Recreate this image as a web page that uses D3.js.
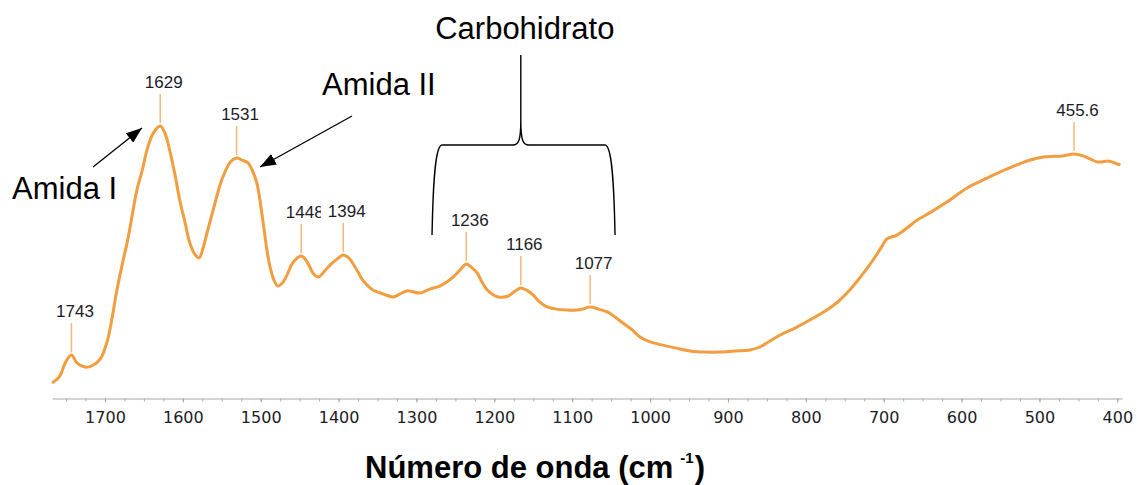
<!DOCTYPE html>
<html>
<head>
<meta charset="utf-8">
<script src="https://cdn.jsdelivr.net/npm/d3@7"></script>
<style>
  body { margin: 0; background: #fff; }
  svg { display: block; }
</style>
</head>
<body>
<svg id="chart"></svg>
<script>
// spectrum (wavenumber in cm-1, relative absorbance)
const wavenumbers = [1768, 1758, 1751, 1743, 1736, 1726, 1717, 1706, 1697, 1691, 1685, 1678, 1670, 1659, 1652, 1646, 1638, 1629, 1623, 1617, 1610, 1604, 1597, 1591, 1584, 1579, 1574, 1568, 1561, 1550, 1539, 1531, 1524, 1516, 1511, 1505, 1497, 1492, 1488, 1483, 1478, 1471, 1465, 1459, 1448, 1442, 1437, 1432, 1426, 1419, 1411, 1402, 1394, 1387, 1382, 1375, 1369, 1362, 1356, 1343, 1330, 1321, 1312, 1303, 1295, 1283, 1270, 1261, 1253, 1244, 1236, 1230, 1222, 1216, 1209, 1203, 1195, 1182, 1175, 1166, 1157, 1150, 1143, 1135, 1122, 1107, 1094, 1086, 1077, 1067, 1055, 1045, 1035, 1023, 1013, 1000, 985, 968, 949, 929, 910, 891, 872, 859, 846, 833, 814, 795, 775, 759, 746, 730, 720, 711, 702, 696, 683, 670, 657, 641, 619, 593, 572, 551, 529, 516, 495, 470, 455.6, 444, 435, 426, 420, 413, 407, 400, 396];
const absorbance = [0.050, 0.073, 0.117, 0.143, 0.117, 0.103, 0.107, 0.130, 0.190, 0.265, 0.355, 0.443, 0.537, 0.693, 0.760, 0.827, 0.883, 0.907, 0.883, 0.827, 0.743, 0.660, 0.583, 0.517, 0.477, 0.467, 0.500, 0.560, 0.627, 0.727, 0.787, 0.800, 0.793, 0.783, 0.760, 0.717, 0.587, 0.493, 0.437, 0.393, 0.373, 0.387, 0.417, 0.450, 0.473, 0.460, 0.437, 0.413, 0.403, 0.420, 0.443, 0.463, 0.477, 0.467, 0.450, 0.420, 0.393, 0.373, 0.360, 0.347, 0.337, 0.347, 0.357, 0.353, 0.350, 0.363, 0.373, 0.387, 0.403, 0.427, 0.447, 0.437, 0.417, 0.387, 0.360, 0.347, 0.337, 0.340, 0.353, 0.367, 0.357, 0.343, 0.323, 0.307, 0.297, 0.293, 0.293, 0.297, 0.303, 0.297, 0.287, 0.270, 0.250, 0.227, 0.203, 0.187, 0.177, 0.167, 0.157, 0.153, 0.153, 0.157, 0.160, 0.170, 0.190, 0.210, 0.233, 0.260, 0.290, 0.320, 0.353, 0.403, 0.437, 0.470, 0.507, 0.530, 0.543, 0.567, 0.593, 0.617, 0.653, 0.700, 0.727, 0.753, 0.777, 0.790, 0.803, 0.807, 0.813, 0.807, 0.797, 0.787, 0.787, 0.790, 0.787, 0.780, 0.777];

// labelled peaks
const peakWavenumbers = [1743, 1629, 1531, 1448, 1394, 1236, 1166, 1077, 455.6];
const peakLabels = ["1743", "1629", "1531", "1448", "1394", "1236", "1166", "1077", "455.6"];

// x axis ticks
const majorTicks = [1700, 1600, 1500, 1400, 1300, 1200, 1100, 1000, 900, 800, 700, 600, 500, 400];
const minorTicks = d3.range(1750, 399, -25);

const width = 1138;
const height = 485;
const axisY = 398.5;

const data = wavenumbers.map((w, i) => ({ w: w, a: absorbance[i] }));

const svg = d3.select("#chart")
  .attr("width", width)
  .attr("height", height);

const x = d3.scaleLinear()
  .domain([1768, 394])
  .range([52, 1122]);

const y = d3.scaleLinear()
  .domain([0, 1])
  .range([398, 98]);

// minor ticks first, then major ticks with labels
svg.append("g")
    .attr("transform", `translate(0,${axisY})`)
  .call(d3.axisBottom(x).tickValues(minorTicks).tickSize(3).tickFormat(""))
  .call(g => g.select(".domain").remove())
  .call(g => g.selectAll("line").attr("stroke", "#b0b0b0"));

svg.append("g")
    .attr("id", "x-axis")
    .attr("transform", `translate(0,${axisY})`)
  .call(d3.axisBottom(x).tickValues(majorTicks).tickSize(4).tickSizeOuter(0).tickPadding(9).tickFormat(d3.format("d")))
  .call(g => g.select(".domain").attr("stroke", "#a8a8a8"))
  .call(g => g.selectAll("line").attr("stroke", "#a8a8a8"))
  .call(g => g.selectAll("text")
    .attr("fill", "#1c1c24")
    .style("font", "16px 'DejaVu Sans', Verdana, sans-serif"));

// axis title
const title = svg.append("text")
  .attr("x", 365)
  .attr("y", 478)
  .style("font", "bold 31px 'Liberation Sans', Arial, sans-serif")
  .attr("fill", "#000");
title.append("tspan").text("Número de onda (cm");
title.append("tspan").attr("dx", 7).attr("dy", -15).style("font-size", "15px").text("-1");
title.append("tspan").attr("dx", 1).attr("dy", 15).text(")");

// spectrum line
const line = d3.line()
  .x(d => x(d.w))
  .y(d => y(d.a))
  .curve(d3.curveCatmullRom.alpha(0.5));

svg.append("path")
  .datum(data)
  .attr("d", line)
  .attr("fill", "none")
  .attr("stroke", "#f29d3f")
  .attr("stroke-width", 3)
  .attr("stroke-linejoin", "round");

// peak markers + labels
const nearest = w => data.reduce((b, d) => Math.abs(d.w - w) < Math.abs(b.w - w) ? d : b);

peakWavenumbers.forEach((w, i) => {
  const p = nearest(w);
  const px = x(w);
  const py = y(p.a);
  const g = svg.append("g");
  g.append("line")
    .attr("x1", px).attr("x2", px)
    .attr("y1", py - 32).attr("y2", py - 3)
    .attr("stroke", "#f7b77a")
    .attr("stroke-width", 1.5);
  const t = g.append("text")
    .attr("x", px + 3.5)
    .attr("y", py - 38)
    .attr("text-anchor", "middle")
    .attr("fill", "#1b1b28")
    .style("font", "17px 'Liberation Sans', Arial, sans-serif")
    .text(peakLabels[i]);
  const tw = t.node().getComputedTextLength();
  g.insert("rect", "text")
    .attr("x", px + 3.5 - tw / 2 - 7)
    .attr("y", py - 53)
    .attr("width", tw + 8)
    .attr("height", 18)
    .attr("fill", "#fff");
});

// annotations
const annFont = "31px 'Liberation Sans', Arial, sans-serif";

svg.append("defs").append("marker")
    .attr("id", "arrow")
    .attr("viewBox", "0 0 16 12")
    .attr("refX", 16).attr("refY", 6)
    .attr("markerWidth", 16).attr("markerHeight", 12)
    .attr("markerUnits", "userSpaceOnUse")
    .attr("orient", "auto")
  .append("path")
    .attr("d", "M0,0 L16,6 L0,12 Z")
    .attr("fill", "#000");

svg.append("text")
  .attr("x", 12).attr("y", 199)
  .style("font", annFont)
  .text("Amida I");

svg.append("line")
  .attr("x1", 93).attr("y1", 167)
  .attr("x2", 142).attr("y2", 128)
  .attr("stroke", "#000").attr("stroke-width", 1.3)
  .attr("marker-end", "url(#arrow)");

svg.append("text")
  .attr("x", 322).attr("y", 95)
  .style("font", annFont)
  .text("Amida II");

svg.append("line")
  .attr("x1", 352).attr("y1", 116)
  .attr("x2", 260).attr("y2", 167)
  .attr("stroke", "#000").attr("stroke-width", 1.3)
  .attr("marker-end", "url(#arrow)");

// carbohydrate brace
const xL = x(1280), xR = x(1045), xC = x(1166);
const bTop = 145, bTip = 55, bBot = 235;
const brace = d3.path();
brace.moveTo(xL, bBot);
brace.bezierCurveTo(xL + 1, 185, xL + 3, bTop, xL + 10, bTop);
brace.lineTo(xC - 8, bTop);
brace.bezierCurveTo(xC - 2, bTop, xC, bTop - 5, xC, bTop - 25);
brace.lineTo(xC, bTip);
brace.lineTo(xC, bTop - 25);
brace.bezierCurveTo(xC, bTop - 5, xC + 2, bTop, xC + 8, bTop);
brace.lineTo(xR - 10, bTop);
brace.bezierCurveTo(xR - 3, bTop, xR - 1, 185, xR, bBot);

svg.append("path")
  .attr("d", brace.toString())
  .attr("fill", "none")
  .attr("stroke", "#000")
  .attr("stroke-width", 1.4);

svg.append("text")
  .attr("x", xC + 4).attr("y", 39)
  .attr("text-anchor", "middle")
  .style("font", annFont)
  .text("Carbohidrato");
</script>
</body>
</html>
